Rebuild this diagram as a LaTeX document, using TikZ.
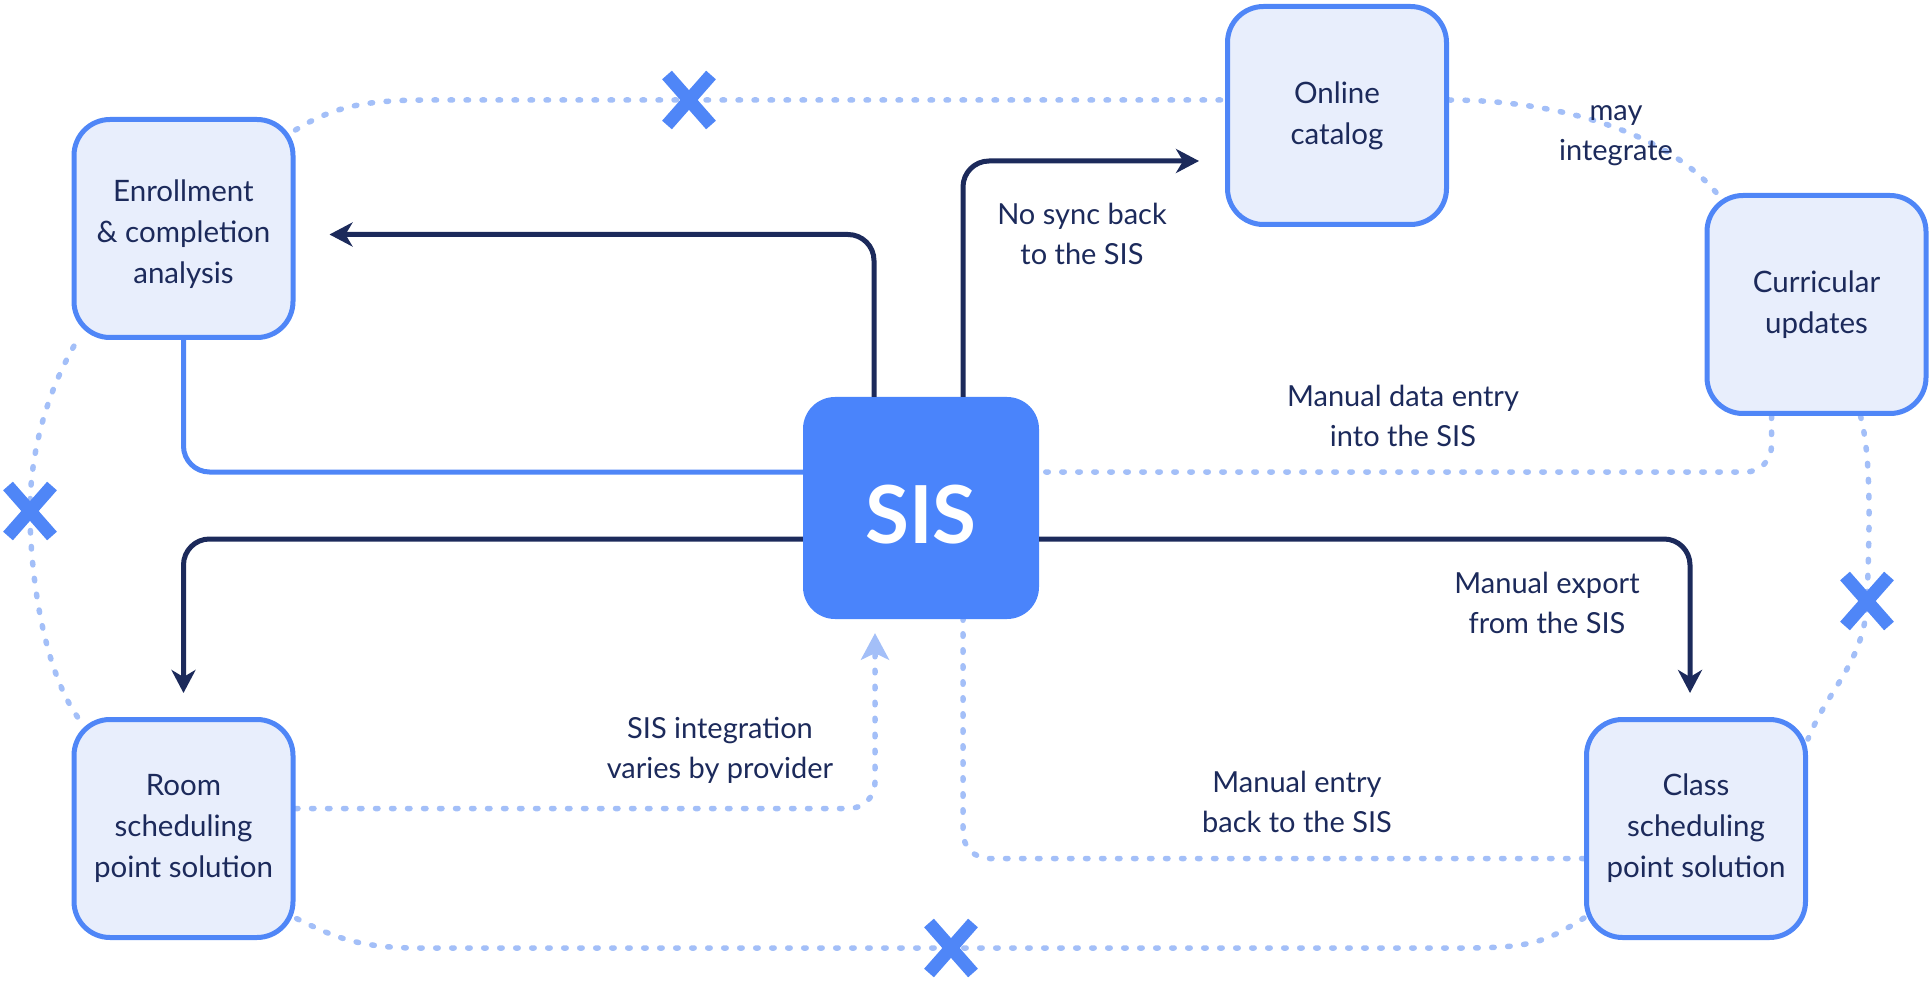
\documentclass[tikz,border=0pt]{standalone}
\usepackage{fontspec}
\setmainfont{Lato}
\usetikzlibrary{arrows.meta,backgrounds}
\definecolor{navy}{HTML}{1C2A5B}
\definecolor{bord}{HTML}{4F86F7}
\definecolor{boxf}{HTML}{E8EEFC}
\definecolor{sisf}{HTML}{4A84FB}
\definecolor{dotc}{HTML}{A3BFF8}
\definecolor{xcol}{HTML}{4F86F7}
\begin{document}
\begin{tikzpicture}[x=1pt,y=-1pt,
  box/.style={draw=bord, fill=boxf, line width=5pt, rounded corners=36pt,
    minimum width=219pt, minimum height=218pt, align=center, text=navy,
    font=\fontsize{29.5}{41}\selectfont, inner sep=0pt},
  boxtext/.style={align=center, text=navy, font=\fontsize{29.5}{41}\selectfont, inner sep=0pt},
  sisbox/.style={fill=sisf, rounded corners=32pt, minimum width=236pt,
    minimum height=222pt, text=white, font=\bfseries\fontsize{80}{80}\selectfont,
    inner sep=0pt, text height=70pt, text depth=0pt},
  lbl/.style={text=navy, align=center, font=\fontsize{29}{40}\selectfont, inner sep=0pt},
  navyline/.style={draw=navy, line width=5pt, rounded corners=26pt,
    -{Stealth[length=23pt,width=24pt,inset=7pt]}},
  lightline/.style={draw=bord, line width=5pt, rounded corners=26pt},
  dotline/.style={draw=dotc, line width=5.5pt, line cap=round, dash pattern=on 2.5pt off 13.5pt},
  dotround/.style={dotline, rounded corners=26pt},
  xmark/.pic={
    \draw[xcol, line width=13pt] (-22,-25) -- (22,25) (-22,25) -- (22,-25);
  }
]
\useasboundingbox (0,0) rectangle (1931,981);

% nodes
\node[box] (enr) at (183.5,228.5) {};
\node[boxtext] (enrt) at ([yshift=-6pt]enr.center) {Enrollment\\\& completion\\analysis};
\node[box] (cat) at (1337,115.5) {Online\\catalog};
\node[box] (cur) at (1816.5,304.5) {Curricular\\updates};
\node[sisbox] (sis) at (921,508) {SIS};
\node[box] (room) at (183.5,828.5) {Room\\scheduling\\point solution};
\node[box] (cls) at (1696,828.5) {Class\\scheduling\\point solution};

\coordinate (x1) at (689,100);
\coordinate (x2) at (1867,601);
\coordinate (x3) at (951,948);
\coordinate (x4) at (30,511);

\begin{scope}[on background layer]
  % outer ring
  \draw[dotline] ([yshift=-13pt]enr.north east) .. controls +(40,-25) and +(-60,0) .. (430,100)
     -- (x1) -- (cat.west |- x1);
  \draw[dotline] (cat.east |- x1) .. controls +(110,0) and +(-50,-60) .. ([xshift=12pt]cur.north west);
  \draw[dotline] ([xshift=44pt]cur.south) .. controls +(12,45) and +(2,-60) .. (x2)
     .. controls +(-2,60) and +(20,-50) .. ([yshift=-22pt]cls.north east);
  \draw[dotline] ([yshift=22pt]cls.south west) .. controls +(-40,25) and +(70,0) .. (1460,948)
     -- (x3) -- (420,948) .. controls +(-60,0) and +(40,20) .. ([yshift=22pt]room.south east);
  \draw[dotline] ([xshift=6pt]room.north west) .. controls +(-35,-50) and +(0,60) .. (x4)
     .. controls +(0,-60) and +(-30,50) .. ([xshift=6pt]enr.south west);

  % dotted connectors to SIS
  \draw[dotround] ([xshift=-45pt]cur.south) |- ([yshift=36pt]sis.east);
  \draw[dotround] ([yshift=-30pt]cls.west) -| ([xshift=42pt]sis.south);
  \draw[dotround] ([yshift=20pt]room.east) -| ([xshift=-46pt,yshift=-34pt]sis.south);
  \draw[lightline] (enr.south) |- ([yshift=36pt]sis.west);
\end{scope}

% light arrowhead for provider integration
\fill[dotc] ([xshift=-46pt,yshift=-14pt]sis.south) -- ++(-14.5,27) -- ++(14.5,-7) -- ++(14.5,7) -- cycle;

% navy arrows
\draw[navyline] ([xshift=-47pt]sis.north) |- ([xshift=34pt,yshift=-6pt]enr.east);
\draw[navyline] ([xshift=42pt]sis.north) |- ([xshift=-26pt,yshift=-45.5pt]cat.west);
\draw[navyline] ([yshift=-31pt]sis.west) -| ([yshift=24pt]room.north);
\draw[navyline] ([yshift=-31pt]sis.east) -| ([xshift=-6pt,yshift=24pt]cls.north);

% X marks
\pic at (x1) {xmark};
\pic at (x2) {xmark};
\pic at (x3) {xmark};
\pic at (x4) {xmark};

% labels
\node[lbl] (l1) at (1082,234) {No sync back\\to the SIS};
\node[lbl] (l2) at (1616,136) {may\\integrate};
\node[lbl] (l3) at (1403,416) {Manual data entry\\into the SIS};
\node[lbl] (l4) at (1547,603) {Manual export\\from the SIS};
\node[lbl] (l5) at (720,750) {SIS integration\\varies by provider};
\node[lbl] (l6) at (1297,802) {Manual entry\\back to the SIS};
\end{tikzpicture}
\end{document}
